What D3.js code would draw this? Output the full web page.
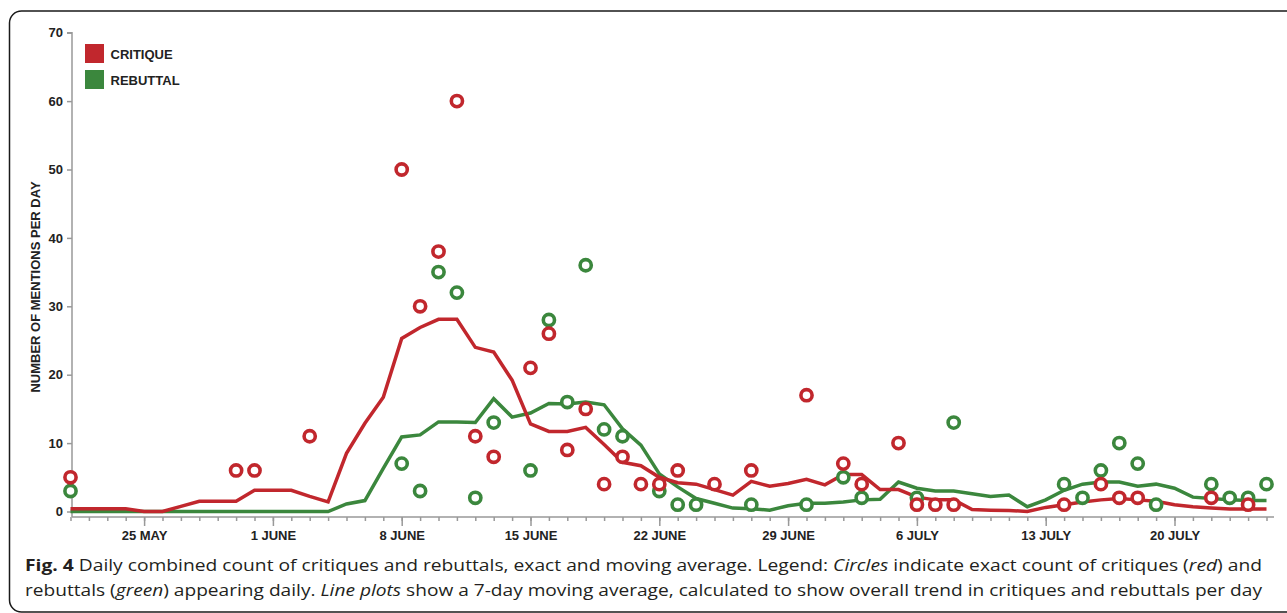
<!DOCTYPE html>
<html>
<head>
<meta charset="utf-8">
<script src="https://cdn.jsdelivr.net/npm/d3@7"></script>
<style>
  body { margin: 0; background: #fff; }
  svg { display: block; }
</style>
</head>
<body>
<svg width="1287" height="613"></svg>
<script>
var svg = d3.select("svg");

var red = "#c1272d";
var green = "#3b873d";

// first day of the series, one value per day after it
var startDay = "2014-05-21";
var endDay = "2014-07-25";

var critiqueAvg = [0.4, 0.4, 0.4, 0.4, 0, 0, 0.75, 1.5, 1.5, 1.5,
  3.1, 3.1, 3.1, 2.2, 1.4, 8.5, 12.9, 16.7, 25.3, 26.9,
  28.1, 28.1, 24.0, 23.3, 19.2, 12.8, 11.7, 11.7, 12.3, 9.8,
  7.2, 6.7, 5.0, 4.2, 4.0, 3.2, 2.4, 4.4, 3.7, 4.1,
  4.7, 3.9, 5.4, 5.4, 3.2, 3.2, 2.1, 1.7, 1.7, 0.3,
  0.2, 0.15, 0, 0.6, 1.0, 1.4, 1.7, 1.9, 1.7, 1.5,
  1.0, 0.7, 0.5, 0.35, 0.35, 0.35];

var rebuttalAvg = [0, 0, 0, 0, 0, 0, 0, 0, 0, 0,
  0, 0, 0, 0, 0, 1.1, 1.6, 6.3, 10.9, 11.2,
  13.1, 13.1, 13.0, 16.5, 13.8, 14.4, 15.8, 15.7, 16.0, 15.6,
  12.1, 9.7, 5.5, 3.6, 1.9, 1.2, 0.5, 0.4, 0.2, 0.85,
  1.2, 1.2, 1.4, 1.7, 1.8, 4.3, 3.4, 3.0, 3.0, 2.6,
  2.2, 2.4, 0.7, 1.7, 3.1, 4.0, 4.3, 4.3, 3.7, 4.0,
  3.4, 2.1, 1.9, 1.7, 1.6, 1.6];

var critiqueDates = ["2014-05-21", "2014-05-30", "2014-05-31", "2014-06-03", "2014-06-08",
  "2014-06-09", "2014-06-10", "2014-06-11", "2014-06-12", "2014-06-13", "2014-06-15",
  "2014-06-16", "2014-06-17", "2014-06-18", "2014-06-19", "2014-06-20", "2014-06-21",
  "2014-06-22", "2014-06-23", "2014-06-25", "2014-06-27", "2014-06-30", "2014-07-02",
  "2014-07-03", "2014-07-05", "2014-07-06", "2014-07-07", "2014-07-08", "2014-07-14",
  "2014-07-16", "2014-07-17", "2014-07-18", "2014-07-22", "2014-07-24"];
var critiqueCounts = [5, 6, 6, 11, 50,
  30, 38, 60, 11, 8, 21,
  26, 9, 15, 4, 8, 4,
  4, 6, 4, 6, 17, 7,
  4, 10, 1, 1, 1, 1,
  4, 2, 2, 2, 1];

var rebuttalDates = ["2014-05-21", "2014-06-08", "2014-06-09", "2014-06-10", "2014-06-11",
  "2014-06-12", "2014-06-13", "2014-06-15", "2014-06-16", "2014-06-17", "2014-06-18",
  "2014-06-19", "2014-06-20", "2014-06-22", "2014-06-23", "2014-06-24", "2014-06-27",
  "2014-06-30", "2014-07-02", "2014-07-03", "2014-07-06", "2014-07-08", "2014-07-14",
  "2014-07-15", "2014-07-16", "2014-07-17", "2014-07-18", "2014-07-19", "2014-07-22",
  "2014-07-23", "2014-07-24", "2014-07-25"];
var rebuttalCounts = [3, 7, 3, 35, 32,
  2, 13, 6, 28, 16, 36,
  12, 11, 3, 1, 1, 1,
  1, 5, 2, 2, 13, 4,
  2, 6, 10, 7, 1, 4,
  2, 2, 4];

var yTicks = [0, 10, 20, 30, 40, 50, 60, 70];
var legendNames = ["CRITIQUE", "REBUTTAL"];

var parse = d3.timeParse("%Y-%m-%d");
var t0 = parse(startDay), t1 = parse(endDay);

var x = d3.scaleTime().domain([t0, t1]).range([70.5, 1266.5]);
var y = d3.scaleLinear().domain([0, 70]).range([511.5, 32.7]);
var axisY = 517;
var axisX = 72;

var font = "'Liberation Sans', Arial, sans-serif";

// frame
svg.append("rect")
   .attr("x", 9.5).attr("y", 11)
   .attr("width", 1300).attr("height", 601)
   .attr("rx", 12)
   .attr("fill", "none")
   .attr("stroke", "#1a1a1a")
   .attr("stroke-width", 1.5);

// x axis: daily minor ticks, weekly labelled ticks
var days = d3.timeDay.range(t0, d3.timeDay.offset(t1, 1));
var weeks = d3.timeWeek.range(t0, t1);

var gx = svg.append("g").attr("transform", "translate(0," + axisY + ")");
gx.append("g")
  .call(d3.axisBottom(x).tickValues(days).tickSize(4).tickFormat(""));
gx.append("g")
  .call(d3.axisBottom(x).tickValues(weeks).tickSize(9).tickPadding(5)
    .tickFormat(function(d) { return d3.timeFormat("%-d %B")(d).toUpperCase(); }));
gx.selectAll(".domain").remove();
gx.append("line")
  .attr("x1", axisX).attr("x2", 1274)
  .attr("stroke", "#999").attr("stroke-width", 1.5);
gx.selectAll(".tick line").attr("stroke", "#999").attr("stroke-width", 1.5);
gx.selectAll(".tick text")
  .attr("fill", "#222")
  .style("font", "bold 13px " + font);

// y axis
var gy = svg.append("g").attr("transform", "translate(" + axisX + ",0)");
gy.call(d3.axisLeft(y).tickValues(yTicks).tickSize(5).tickPadding(4));
gy.select(".domain").remove();
gy.append("path")
  .attr("d", "M-5," + y(70) + "H0V" + axisY)
  .attr("fill", "none")
  .attr("stroke", "#999").attr("stroke-width", 1.5);
gy.selectAll(".tick line").attr("stroke", "#999").attr("stroke-width", 1.5);
gy.selectAll(".tick text")
  .attr("fill", "#222")
  .style("font", "bold 13px " + font);

svg.append("text")
   .attr("transform", "translate(40,287) rotate(-90)")
   .attr("text-anchor", "middle")
   .attr("fill", "#222")
   .style("font", "bold 13px " + font)
   .text("NUMBER OF MENTIONS PER DAY");

// moving average lines
var line = d3.line()
  .x(function(d, i) { return x(d3.timeDay.offset(t0, i)); })
  .y(function(d) { return y(d); });

svg.append("path")
   .datum(rebuttalAvg)
   .attr("d", line)
   .attr("fill", "none")
   .attr("stroke", green)
   .attr("stroke-width", 3.5);

svg.append("path")
   .datum(critiqueAvg)
   .attr("d", line)
   .attr("fill", "none")
   .attr("stroke", red)
   .attr("stroke-width", 3.5);

// daily counts
function drawCircles(dates, counts, color) {
  svg.append("g").selectAll("circle")
     .data(counts)
     .enter().append("circle")
     .attr("cx", function(d, i) { return x(parse(dates[i])); })
     .attr("cy", function(d) { return y(d); })
     .attr("r", 5.6)
     .attr("fill", "#fff")
     .attr("stroke", color)
     .attr("stroke-width", 3.6);
}
drawCircles(rebuttalDates, rebuttalCounts, green);
drawCircles(critiqueDates, critiqueCounts, red);

// legend
var legend = svg.append("g");
legendNames.forEach(function(name, i) {
  legend.append("rect")
        .attr("x", 85).attr("y", 44 + i * 26)
        .attr("width", 19).attr("height", 19)
        .attr("fill", i == 0 ? red : green);
  legend.append("text")
        .attr("x", 110.5).attr("y", 59 + i * 26)
        .attr("fill", "#222")
        .style("font", "bold 13px " + font)
        .text(name);
});

// caption
var capFont = "'Open Sans', 'Noto Sans', sans-serif";
var cap1 = svg.append("text")
  .attr("x", 25).attr("y", 571)
  .attr("textLength", 1237).attr("lengthAdjust", "spacingAndGlyphs")
  .attr("fill", "#231f20")
  .style("font", "15.5px " + capFont);
cap1.append("tspan").style("font-weight", "bold").text("Fig. 4");
cap1.append("tspan").text(" Daily combined count of critiques and rebuttals, exact and moving average. Legend: ");
cap1.append("tspan").style("font-style", "italic").text("Circles");
cap1.append("tspan").text(" indicate exact count of critiques (");
cap1.append("tspan").style("font-style", "italic").text("red");
cap1.append("tspan").text(") and");

var cap2 = svg.append("text")
  .attr("x", 25).attr("y", 596)
  .attr("textLength", 1237).attr("lengthAdjust", "spacingAndGlyphs")
  .attr("fill", "#231f20")
  .style("font", "15.5px " + capFont);
cap2.append("tspan").text("rebuttals (");
cap2.append("tspan").style("font-style", "italic").text("green");
cap2.append("tspan").text(") appearing daily. ");
cap2.append("tspan").style("font-style", "italic").text("Line plots");
cap2.append("tspan").text(" show a 7-day moving average, calculated to show overall trend in critiques and rebuttals per day");
</script>
</body>
</html>
